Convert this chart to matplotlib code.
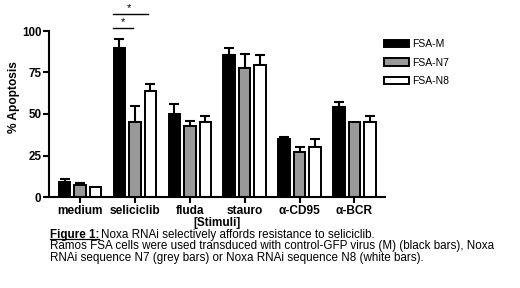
import numpy as np
import matplotlib
matplotlib.use("Agg")
import matplotlib.pyplot as plt
from matplotlib.patches import Patch
from matplotlib.lines import Line2D

plt.rcParams['font.family'] = ['Liberation Sans', 'DejaVu Sans']

# data
stimuli = ['medium', 'seliciclib', 'fluda', 'stauro', 'α-CD95', 'α-BCR']
series = ['FSA-M', 'FSA-N7', 'FSA-N8']
fsa_m = [9, 90, 50, 85.5, 35, 54]
fsa_m_err = [2, 5, 6, 4.5, 1, 3]
fsa_n7 = [7, 45, 43, 78, 27, 45]
fsa_n7_err = [1.5, 10, 3, 8, 3, 0]
fsa_n8 = [6, 64, 45, 79.5, 30, 45]
fsa_n8_err = [0, 4, 4, 6, 5, 4]
colors = ['black', '#999999', 'white']
yticks = [0, 25, 50, 75, 100]

fig = plt.figure(figsize=(5.2, 2.88), dpi=100)
ax = fig.add_axes([49/520, 91/288, 336/520, 166/288])

x = np.arange(len(stimuli))
off = 0.282
w = 0.21
for i, (vals, errs) in enumerate([(fsa_m, fsa_m_err), (fsa_n7, fsa_n7_err), (fsa_n8, fsa_n8_err)]):
    xs = x + (i - 1) * off
    ax.bar(xs, vals, w, color=colors[i], edgecolor='black', linewidth=1.4, label=series[i], zorder=2)
    for xx, v, e in zip(xs, vals, errs):
        if e > 0:
            ax.errorbar(xx, v, yerr=[[0], [e]], fmt='none', ecolor='black',
                        elinewidth=1.5, capsize=3.5, capthick=1.5, zorder=1)

ax.set_xlim(-0.565, 5.556)
ax.set_ylim(0, 100)
ax.set_yticks(yticks)
ax.set_xticks(x)
ax.set_xticklabels(stimuli, fontsize=8.6, fontweight='bold')
ax.set_yticklabels([str(t) for t in yticks], fontsize=8.4, fontweight='bold')
for s in ['top', 'right']:
    ax.spines[s].set_visible(False)
for s in ['left', 'bottom']:
    ax.spines[s].set_linewidth(1.5)
ax.tick_params(width=1.5, length=4, pad=1.5)
ax.set_ylabel('% Apoptosis', fontsize=8.6, fontweight='bold')
ax.yaxis.set_label_coords(-0.086, 0.6)
ax.set_xlabel('[Stimuli]', fontsize=8.5, fontweight='bold', labelpad=0.5)

# significance brackets
ax.plot([0.60, 0.965], [101.8, 101.8], color='black', lw=1, clip_on=False)
ax.text(0.78, 102.5, '*', ha='center', va='bottom', fontsize=8, clip_on=False)
ax.plot([0.60, 1.24], [110, 110], color='black', lw=1, clip_on=False)
ax.text(0.89, 110.8, '*', ha='center', va='bottom', fontsize=8, clip_on=False)

handles = [Patch(facecolor=c, edgecolor='black', linewidth=1.4) for c in colors]
fig.legend(handles, series, loc='upper left', bbox_to_anchor=(379/520, 1 - 34/288),
           frameon=False, fontsize=7.5, handlelength=2.4, handleheight=0.7,
           handletextpad=0.3, labelspacing=0.8, borderpad=0)

# caption
fig.canvas.draw()
r = fig.canvas.get_renderer()
cs = 8.4
t1 = fig.text(50/520, 1 - 235/288, 'Figure 1:', fontsize=cs, fontweight='bold', va='center')
bb = t1.get_window_extent(r)
fig.add_artist(Line2D([bb.x0 / 520, bb.x1 / 520], [(bb.y0 + 1.8) / 288] * 2,
                      color='black', lw=0.9, transform=fig.transFigure))
fig.text(bb.x1 / 520 + 0.004, 1 - 235/288, 'Noxa RNAi selectively affords resistance to seliciclib.',
         fontsize=cs, va='center')
fig.text(50/520, 1 - 246.5/288,
         'Ramos FSA cells were used transduced with control-GFP virus (M) (black bars), Noxa',
         fontsize=cs, va='center')
fig.text(50/520, 1 - 258/288,
         'RNAi sequence N7 (grey bars) or Noxa RNAi sequence N8 (white bars).',
         fontsize=cs, va='center')

fig.savefig('out.png', dpi=100)
